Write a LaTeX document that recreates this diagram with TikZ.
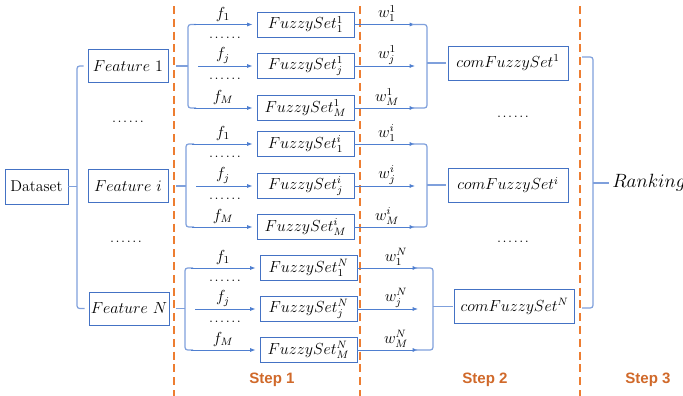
\documentclass[tikz,border=0pt]{standalone}
\usepackage{fontspec}
\newfontfamily\stepfont{Liberation Sans}
\usetikzlibrary{arrows.meta}
\definecolor{boxblue}{HTML}{4472C4}
\definecolor{lineblue}{HTML}{4F7FD0}
\definecolor{braceblue}{HTML}{7FA0DC}
\definecolor{dashorange}{HTML}{ED7D31}
\definecolor{steporange}{HTML}{D0692A}
\newcommand\mydots{.\kern1.2pt.\kern1.2pt.\kern1.2pt.\kern1.2pt.\kern1.2pt.}
\begin{document}
\begin{tikzpicture}[x=0.75pt,y=-0.75pt,
  every node/.style={font=\fontsize{11.8}{14}\selectfont, inner sep=0pt},
  bx/.style={draw=boxblue, line width=0.7pt},
  fbox/.style={bx, minimum width=72.75pt, minimum height=18.75pt},
  cbox/.style={bx, minimum width=90pt, minimum height=25.5pt},
  febox/.style={bx, minimum width=60pt, minimum height=24.75pt},
  brace/.style={draw=braceblue, line width=0.9pt},
  arr/.style={draw=lineblue, line width=0.6pt, -{Latex[length=4pt,width=3pt]}, shorten >=3pt},
  warr/.style={draw=lineblue, line width=0.6pt, -{Latex[length=4pt,width=3pt]}},
  sep/.style={draw=dashorange, line width=2pt, dash pattern=on 6pt off 3.6pt},
  steplab/.style={font=\stepfont\bfseries\fontsize{11.3}{13}\selectfont, text=steporange},
  dotlab/.style={font=\fontsize{11}{13}\selectfont}
]
\useasboundingbox (0,0) rectangle (683,396);

% separators
\draw[sep] (174,6) -- (174,396);
\draw[sep] (360,6) -- (360,396);
\draw[sep] (580,6) -- (580,396);

% dataset and features
\node[bx, minimum width=47.25pt, minimum height=26.25pt] (ds) at (36.5,186.5) {Dataset};
\node[febox] (fe1) at (128,66) {$Feature\ 1$};
\node[febox] (fei) at (128,186) {$Feature\ i$};
\node[febox] (feN) at (129,308.5) {$Feature\ N$};
\node[dotlab] (d1) at (128,122) {\mydots};
\node[dotlab] (d2) at (126,242) {\mydots};

\coordinate (b0) at (77,186.5);
\draw[brace] (ds.east) -- (b0);
\draw[brace, rounded corners=2pt] ([xshift=-3pt]fe1.west) -| (b0) |- ([xshift=-3pt]feN.west);

% combined sets
\node[cbox] (c1) at (508,63) {$comFuzzySet^{1}$};
\node[cbox] (ci) at (508,185) {$comFuzzySet^{i}$};
\node[cbox] (cN) at (514.5,306.5) {$comFuzzySet^{N}$};
\node[dotlab] (d3) at (513,117) {\mydots};
\node[dotlab] (d4) at (513,242) {\mydots};

\foreach \gn/\gs/\gf/\fbx/\bx/\ya/\yb/\yc/\we/\wb/\cn/\wl in {
  a/1/fe1/188/305.5/24.5/66/108/415/427/c1/387,
  b/i/fei/186/305.5/144/186/227/415/427/ci/387,
  c/N/feN/185/308.5/268/309/350/418/433/cN/396}
{
  \node[fbox] (\gn1) at (\bx,\ya) {$FuzzySet^{\gs}_{1}$};
  \node[fbox] (\gn2) at (\bx,\yb) {$FuzzySet^{\gs}_{j}$};
  \node[fbox] (\gn3) at (\bx,\yc) {$FuzzySet^{\gs}_{M}$};
  % brace from feature
  \draw[brace] (176,0 |- \gf.east) -- (\fbx,0 |- \gf.east);
  \draw[brace, rounded corners=2pt] (\fbx+8,\ya) -| (\fbx,\yb) |- (\fbx+8,\yc);
  \draw[arr] (\fbx+6,\ya) -- (\gn1.west);
  \draw[arr] (\fbx+10,\yb) -- (\gn2.west);
  \draw[arr] (\fbx+6,\yc) -- (\gn3.west);
  \node at (223,\ya-10.5) {$f_1$};
  \node at (223,\yb-10.5) {$f_j$};
  \node at (223,\yc-10.5) {$f_M$};
  \node[dotlab] at (225,\ya+13) {\mydots};
  \node[dotlab] at (225,\yb+13) {\mydots};
  % weights
  \draw[warr] (\gn1.east) -- (\we,\ya);
  \draw[warr] (\gn2.east) -- (\we,\yb);
  \draw[warr] (\gn3.east) -- (\we,\yc);
  \draw[brace, rounded corners=2pt] (\we-3,\ya) -| (\wb,0 |- \cn.west) |- (\we-3,\yc);
  \draw[brace] (\wb,0 |- \cn.west) -- ([xshift=-1pt]\cn.west);
  \node at (\wl,\ya-11) {$w^{\gs}_{1}$};
  \node at (\wl,\yb-11) {$w^{\gs}_{j}$};
  \node at (\wl,\yc-11) {$w^{\gs}_{M}$};
}

% ranking
\node[anchor=west, font=\fontsize{15}{18}\selectfont] (rk) at (612,183) {$Ranking$};
\coordinate (r0) at (593,183);
\draw[brace, rounded corners=2pt] (582,57) -| (r0) |- (582,308);
\draw[brace] (r0) -- ([xshift=-2pt]rk.west);

% step labels
\node[steplab] (s1) at (272,380) {Step 1};
\node[steplab] (s2) at (485,380) {Step 2};
\node[steplab] (s3) at (648,380) {Step 3};
\end{tikzpicture}
\end{document}
